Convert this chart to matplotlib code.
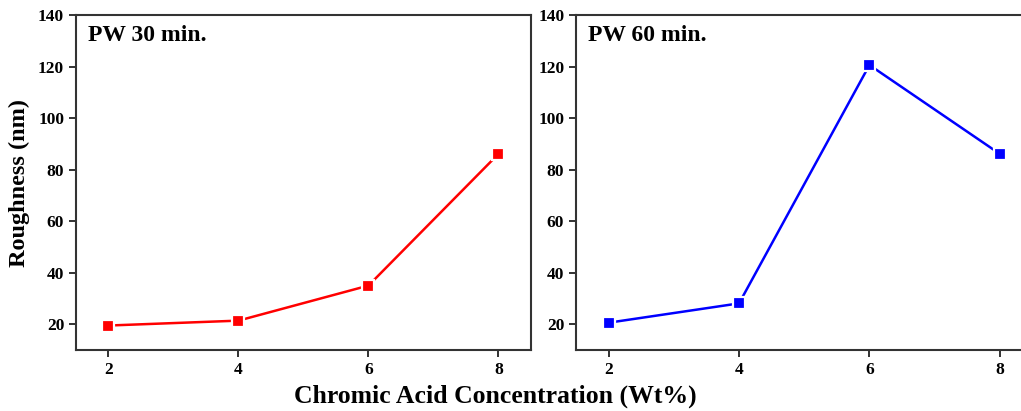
import numpy as np
import matplotlib
matplotlib.use('Agg')
import matplotlib.pyplot as plt

# Roughness vs chromic acid concentration, two pre-wash times
conc = [2, 4, 6, 8]
rough_30 = [19.5, 21.4, 35.0, 86.1]
rough_60 = [20.6, 28.1, 120.6, 86.1]
panel_titles = ['PW 30 min.', 'PW 60 min.']
colors = ['#ff0000', '#0000ff']
yticks = [20, 40, 60, 80, 100, 120, 140]

plt.rcParams['font.family'] = ['Liberation Serif', 'DejaVu Serif']
plt.rcParams['font.weight'] = 'bold'

fig = plt.figure(figsize=(10.21, 4.11), dpi=100)
ax1 = fig.add_axes([0.0744, 0.1484, 0.4456, 0.815])
ax2 = fig.add_axes([0.5642, 0.1484, 0.4470, 0.815])

for ax, y, title, c in zip([ax1, ax2], [rough_30, rough_60], panel_titles, colors):
    ax.plot(conc, y, color=c, lw=1.8, marker='s', ms=8.5,
            mfc=c, mec='white', mew=1.6, zorder=3)
    ax.set_xlim(1.5, 8.5)
    ax.set_ylim(10, 140)
    ax.set_xticks(conc)
    ax.set_yticks(yticks)
    ax.tick_params(direction='out', length=5, width=1.3, labelsize=12.5,
                   color='#222222', top=False, right=False)
    for lab in ax.get_xticklabels() + ax.get_yticklabels():
        lab.set_fontweight('bold')
    for s in ax.spines.values():
        s.set_linewidth(1.5)
        s.set_color('#333333')
    ax.text(0.027, 0.97, title, transform=ax.transAxes, fontsize=17,
            fontweight='bold', va='top', ha='left')

ax1.set_ylabel('Roughness (nm)', fontsize=17.5, fontweight='bold', labelpad=6)
fig.text(0.485, 0.035, 'Chromic Acid Concentration (Wt%)', fontsize=18.5,
         fontweight='bold', ha='center', va='center')

fig.savefig('out.png', dpi=100)
